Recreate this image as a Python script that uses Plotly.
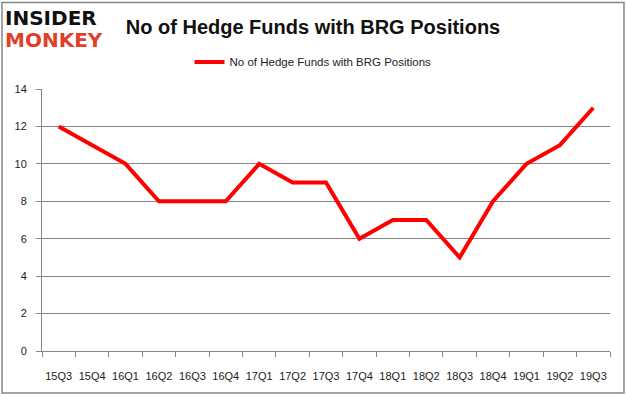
import plotly.graph_objects as go

quarters = ["15Q3", "15Q4", "16Q1", "16Q2", "16Q3", "16Q4", "17Q1", "17Q2", "17Q3",
            "17Q4", "18Q1", "18Q2", "18Q3", "18Q4", "19Q1", "19Q2", "19Q3"]
hedge_funds = [12, 11, 10, 8, 8, 8, 10, 9, 9, 6, 7, 7, 5, 8, 10, 11, 13]
series_name = "No of Hedge Funds with BRG Positions"
y_ticks = [0, 2, 4, 6, 8, 10, 12, 14]

fig = go.Figure()
fig.add_trace(go.Scatter(x=quarters, y=hedge_funds, mode="lines", name=series_name,
                         line=dict(color="#ff0000", width=4)))

font_family = "Liberation Sans"
fig.update_layout(
    width=626, height=397,
    margin=dict(l=42, r=16, t=89, b=46, autoexpand=False),
    paper_bgcolor="white", plot_bgcolor="white",
    title=dict(text="<b>No of Hedge Funds with BRG Positions</b>", x=0.5, xref="container",
               xanchor="center", y=0.932, yref="container", yanchor="middle",
               font=dict(family=font_family, size=20, color="#111111")),
    showlegend=True,
    legend=dict(orientation="h", x=0.5, xref="container", xanchor="center",
                y=0.844, yref="container", yanchor="middle",
                font=dict(family=font_family, size=11.5, color="#222222"),
                bgcolor="rgba(0,0,0,0)"),
    xaxis=dict(type="category", showline=True, linecolor="#868686", linewidth=1,
               ticks="outside", tickson="boundaries", ticklen=5, tickcolor="#868686",
               showgrid=False, tickangle=0, ticklabelstandoff=15,
               tickfont=dict(family=font_family, size=11, color="#222222"),
               range=[-0.5, len(quarters) - 0.5]),
    yaxis=dict(range=[0, 14], tickvals=y_ticks, showline=True, linecolor="#868686", linewidth=1,
               ticks="outside", ticklen=5, tickcolor="#868686", ticklabelstandoff=7,
               showgrid=True, gridcolor="#868686", gridwidth=1, zeroline=False,
               tickfont=dict(family=font_family, size=11, color="#222222")),
    shapes=[dict(type="rect", xref="paper", yref="paper", x0=-0.0704, x1=1.0246,
                 y0=-0.160, y1=1.330, line=dict(color="#868686", width=1.5))],
    annotations=[
        dict(text="<b>INSIDER</b>", xref="paper", yref="paper", x=-0.068, y=1.326,
             xanchor="left", yanchor="top", showarrow=False,
             font=dict(family="DejaVu Sans", size=20, color="#111111")),
        dict(text="<b>MONKEY</b>", xref="paper", yref="paper", x=-0.068, y=1.2405,
             xanchor="left", yanchor="top", showarrow=False,
             font=dict(family="DejaVu Sans", size=20, color="#e0402a")),
    ],
)

fig.write_html("out.html", config={"displayModeBar": False},
               post_script="document.body.style.margin='0';")
